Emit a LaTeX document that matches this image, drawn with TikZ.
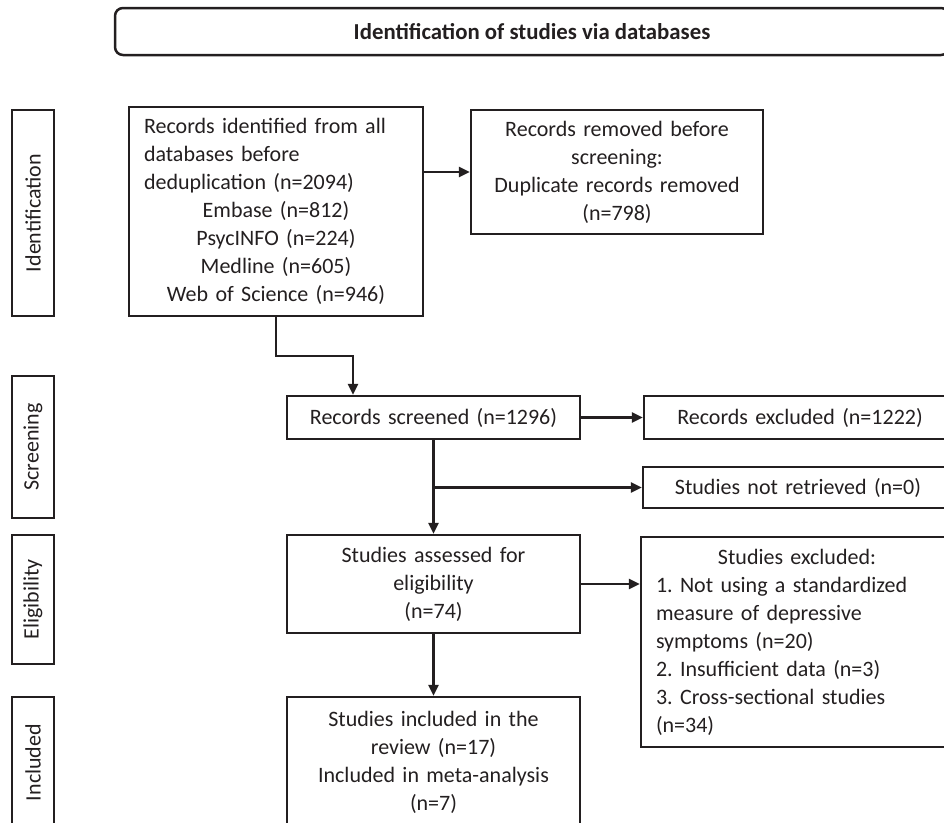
\documentclass[tikz,border=0pt]{standalone}
\usepackage{fontspec}
\setmainfont{Carlito}
\usetikzlibrary{arrows.meta}
\definecolor{ink}{HTML}{231F20}
\frenchspacing
\begin{document}
\begin{tikzpicture}[x=1pt,y=-1pt,
  box/.style={draw=ink, line width=2.5pt, inner xsep=15pt, inner ysep=0pt,
    font=\fontsize{22}{28}\selectfont, text=ink, align=center},
  side/.style={draw=ink, line width=2.5pt, inner sep=0pt, rotate=90,
    font=\fontsize{22}{26}\selectfont, text=ink, minimum height=42pt},
  arr/.style={draw=ink, line width=2.5pt, -{Triangle[length=11pt,width=10pt]}},
  lnk/.style={draw=ink, line width=2.5pt}]
\useasboundingbox (0,0) rectangle (944,822);
\clip (0,0) rectangle (944,822);
% title
\node[draw=ink, line width=2.5pt, rounded corners=8pt, minimum width=834pt, minimum height=47pt,
  font=\fontsize{22.8}{26}\selectfont\bfseries, text=ink, inner sep=0pt] (title) at (532,31.5)
  {Identification of studies via databases};
% side labels
\node[side, minimum width=206pt] (sid) at (33,213) {Identification};
\node[side, minimum width=142pt] (sscr) at (33,447) {Screening};
\node[side, minimum width=129pt] (selig) at (33,599.5) {Eligibility};
\node[side, minimum width=131pt] (sincl) at (33,762.5) {Included};
% boxes
\node[box, minimum width=294pt, minimum height=209pt, text width=264pt] (recid) at (276,211.5)
  {{\raggedright Records identified from all\\databases before\\deduplication (n=2094)\par}%
   {\centering Embase (n=812)\\PsycINFO (n=224)\\Medline (n=605)\\Web of Science (n=946)\par}};
\node[box, minimum width=292pt, minimum height=124pt, text width=262pt] (removed) at (617,172)
  {Records removed before\\screening:\\Duplicate records removed\\(n=798)};
\node[box, minimum width=293pt, minimum height=43pt, text width=263pt] (screened) at (433.5,417.5)
  {Records screened (n=1296)};
\node[box, minimum width=312pt, minimum height=43pt, text width=282pt] (excl) at (800,417.5)
  {Records excluded (n=1222)};
\node[box, minimum width=310pt, minimum height=41pt, text width=280pt] (notret) at (798,487.5)
  {Studies not retrieved (n=0)};
\node[box, minimum width=293pt, minimum height=98pt, text width=263pt] (assessed) at (433.5,584)
  {Studies assessed for\\eligibility\\(n=74)};
\node[box, minimum width=312pt, minimum height=210pt, text width=282pt] (reasons) at (797,642)
  {{\centering Studies excluded:\par}%
   {\raggedright 1. Not using a standardized\\measure of depressive\\symptoms (n=20)\\2. Insufficient data (n=3)\\3. Cross-sectional studies\\(n=34)\par}};
\node[box, minimum width=293pt, minimum height=131pt, text width=263pt] (included) at (433.5,762.5)
  {Studies included in the\\review (n=17)\\Included in meta-analysis\\(n=7)};
% connectors
\coordinate (k1) at (353,356);
\draw[arr] (recid.east |- removed.west) -- (removed.west);
\draw[arr] (recid.south) |- (k1) -- (k1 |- screened.north);
\draw[arr] (screened.east) -- (excl.west);
\draw[arr] (screened.south) -- (assessed.north);
\draw[arr] (screened.south |- notret.west) -- (notret.west);
\draw[arr] (assessed.east) -- (assessed.east -| reasons.west);
\draw[arr] (assessed.south) -- (included.north);
\end{tikzpicture}
\end{document}
